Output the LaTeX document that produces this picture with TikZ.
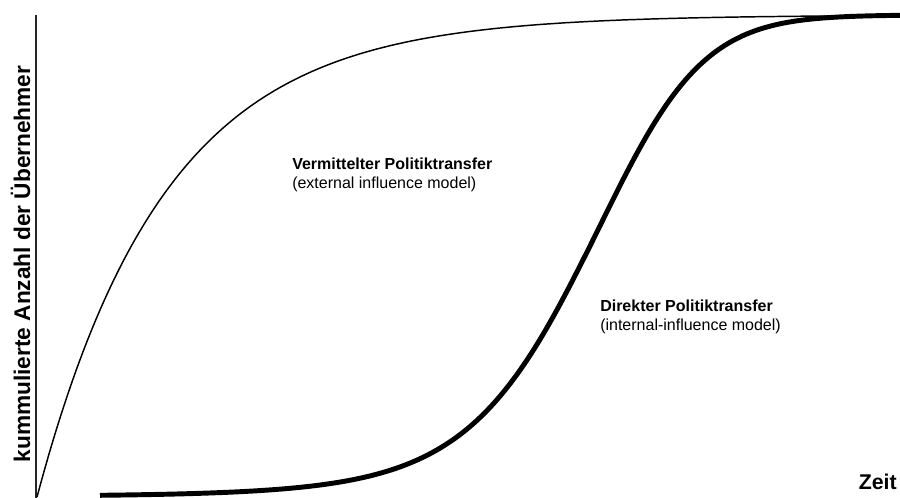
\documentclass[tikz,border=0pt]{standalone}
\usepackage{fontspec}
\setmainfont{Liberation Sans}
\usetikzlibrary{positioning}

\begin{document}
\begin{tikzpicture}[x=0.75pt,y=0.75pt,
  curvelabel/.style={align=left,inner sep=0pt,font=\fontsize{12}{14.6}\selectfont},
  axislabel/.style={inner sep=0pt,font=\bfseries}]
\useasboundingbox (0,0) rectangle (900,498);

% axis
\coordinate (O) at (36,0);
\coordinate (T) at (36,483);
\draw[line width=0.8pt,black!85] (O) -- (T);

% external influence model
\draw[line width=1.1pt] plot[domain=37:900,samples=220]
  (\x,{1+482*(1-exp(-0.0078*(\x-37)))});

% internal influence model
\draw[line width=3.7pt] plot[domain=100:900,samples=220]
  (\x,{1+482/(1+exp(-(1.65*(\x-585)/100+0.1*(min(\x-585,0)/100)^2+0.2*(max(\x-585,0)/100)^2)))});

\node[curvelabel,anchor=north west] (ext) at (292,340.5)
  {\textbf{Vermittelter Politiktransfer}\\(external influence model)};
\node[curvelabel,anchor=north west] (int) at (600,198.5)
  {\textbf{Direkter Politiktransfer}\\(internal-influence model)};

\node[axislabel,font=\fontsize{16}{19}\selectfont\bfseries,anchor=base east] (zeit) at (897,8) {Zeit};
\node[axislabel,font=\fontsize{17}{20}\selectfont\bfseries,rotate=90,anchor=base] (anzahl) at (30,234)
  {kummulierte Anzahl der Übernehmer};
\end{tikzpicture}
\end{document}
